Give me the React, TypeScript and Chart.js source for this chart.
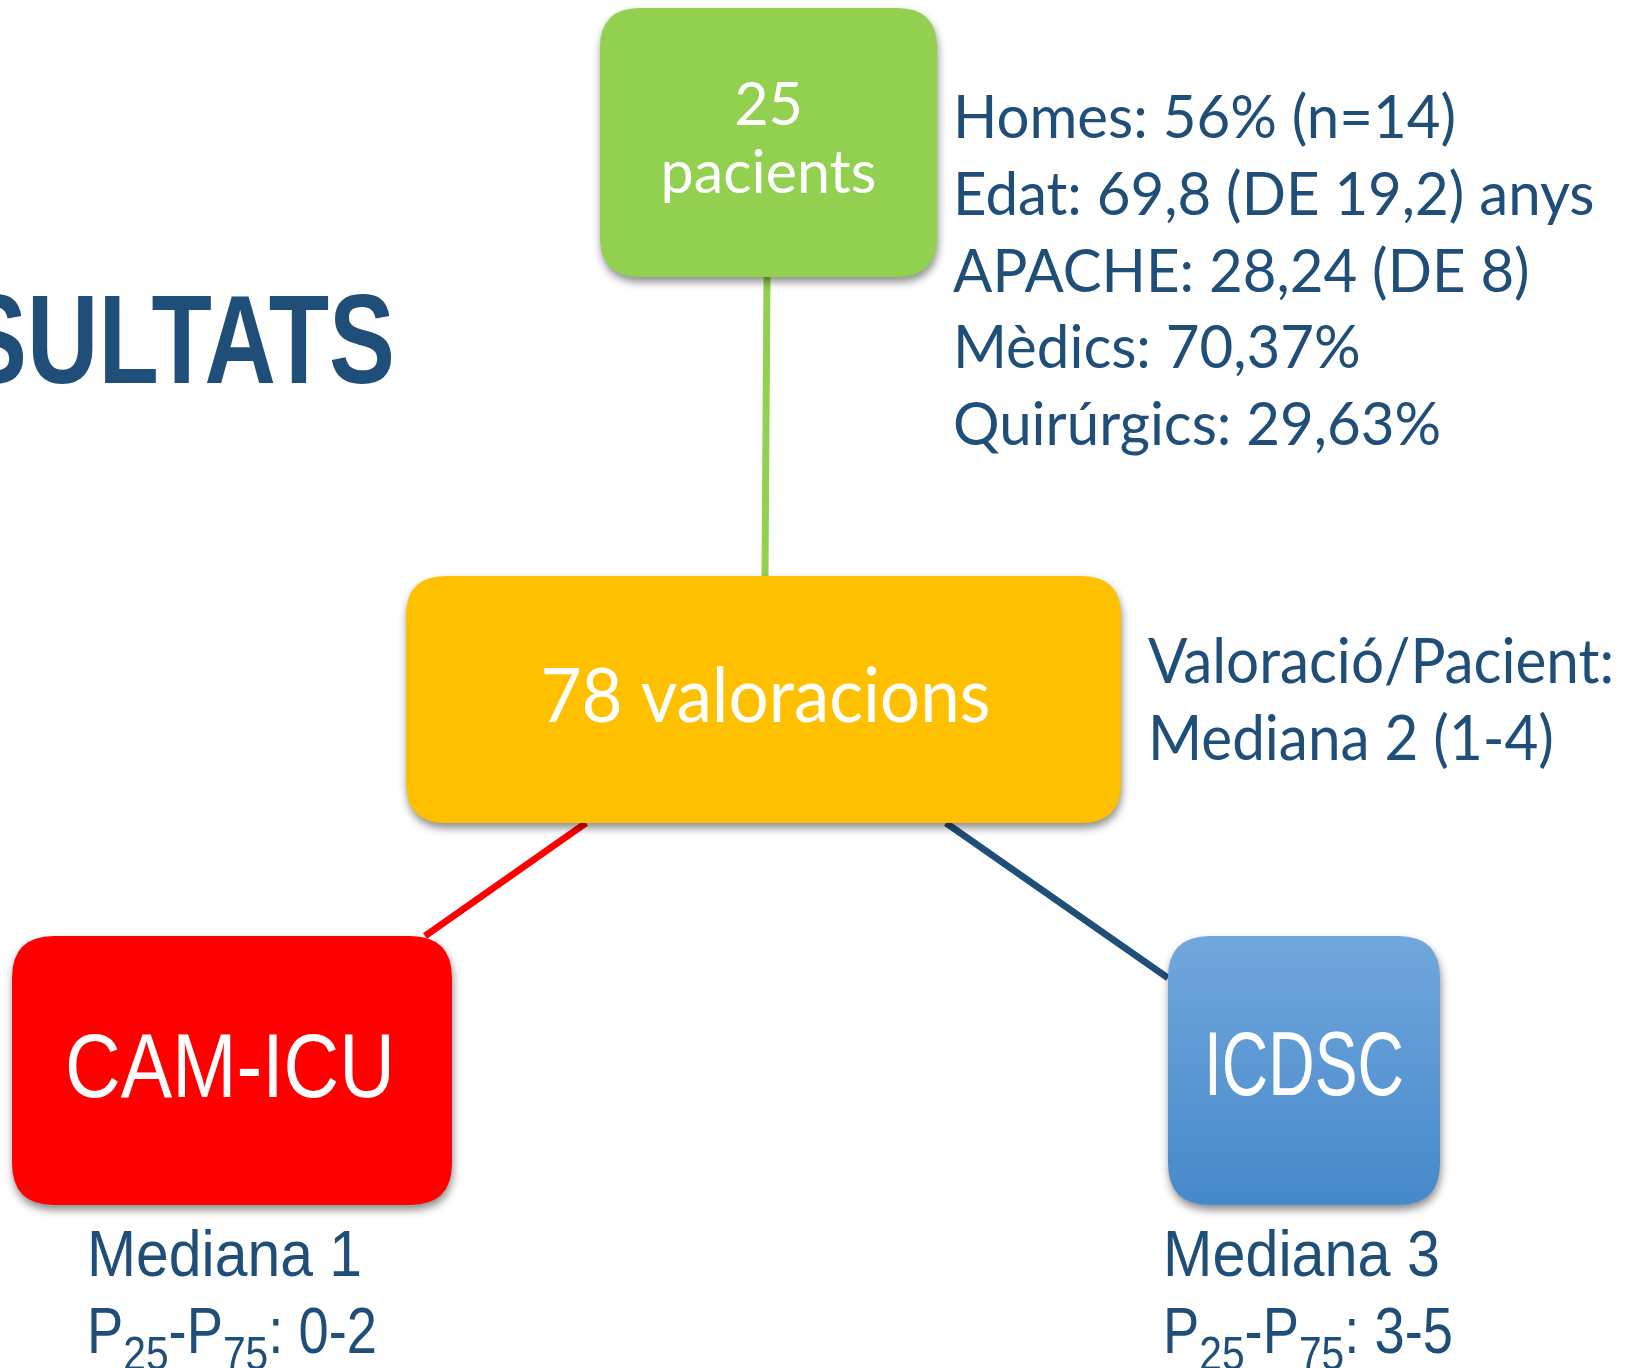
import React, { useEffect, useRef } from 'react';
import { Chart, registerables } from 'chart.js';
Chart.register(...registerables);

const W = 1627;
const H = 1368;

// ---- diagram data ----
const nodeLabels: string[][] = [['25', 'pacients'], ['78 valoracions'], ['CAM-ICU'], ['ICDSC']];
const nodeColorsTop = ['#92d050', '#ffc000', '#ff0000', '#72a7dd'];
const nodeColorsBottom = ['#92d050', '#ffc000', '#ff0000', '#4589ca'];

const infoLines = ['Homes: 56% (n=14)', 'Edat: 69,8 (DE 19,2) anys', 'APACHE: 28,24 (DE 8)', 'Mèdics: 70,37%', 'Quirúrgics: 29,63%'];
const valLines = ['Valoració/Pacient:', 'Mediana 2 (1-4)'];
const camStats = ['Mediana 1', '0-2'];
const icdscStats = ['Mediana 3', '3-5'];
const titleText = 'RESULTATS';

// ---- layout (positions / sizes) ----
const nodeLeft = [600, 406, 12, 1168];
const nodeTop = [8, 576, 936, 936];
const nodeRight = [937, 1121, 452, 1440];
const nodeBottom = [277, 823, 1205, 1205];
const nodeRadius = [40, 40, 42, 42];

const edgeFromX = [767, 586, 946];
const edgeFromY = [277, 823, 823];
const edgeToX = [765, 425, 1168];
const edgeToY = [576, 936, 978];
const edgeColors = ['#92d050', '#ff0000', '#1f4e79'];

const NAVY = '#1f4e79';

function drawText(ctx: CanvasRenderingContext2D, s: string, x: number, y: number, font: string, color: string, align: string, sx: number) {
  ctx.save();
  ctx.font = font;
  ctx.fillStyle = color;
  ctx.textBaseline = 'alphabetic';
  ctx.textAlign = 'left';
  const w = ctx.measureText(s).width * sx;
  const x0 = align === 'center' ? x - w / 2 : align === 'right' ? x - w : x;
  ctx.translate(x0, y);
  ctx.scale(sx, 1);
  ctx.fillText(s, 0, 0);
  ctx.restore();
  return w;
}

function measure(ctx: CanvasRenderingContext2D, s: string, font: string) {
  ctx.save();
  ctx.font = font;
  const w = ctx.measureText(s).width;
  ctx.restore();
  return w;
}

function fitScale(ctx: CanvasRenderingContext2D, s: string, font: string, target: number) {
  return target / measure(ctx, s, font);
}

function roundRect(ctx: CanvasRenderingContext2D, x: number, y: number, w: number, h: number, r: number) {
  ctx.beginPath();
  ctx.moveTo(x + r, y);
  ctx.lineTo(x + w - r, y);
  ctx.quadraticCurveTo(x + w, y, x + w, y + r);
  ctx.lineTo(x + w, y + h - r);
  ctx.quadraticCurveTo(x + w, y + h, x + w - r, y + h);
  ctx.lineTo(x + r, y + h);
  ctx.quadraticCurveTo(x, y + h, x, y + h - r);
  ctx.lineTo(x, y + r);
  ctx.quadraticCurveTo(x, y, x + r, y);
  ctx.closePath();
}

const diagramPlugin = {
  id: 'diagram',
  afterDatasetsDraw(chart: any) {
    const ctx: CanvasRenderingContext2D = chart.ctx;
    const sx = chart.scales.x;
    const sy = chart.scales.y;
    const X = (v: number) => sx.getPixelForValue(v);
    const Y = (v: number) => sy.getPixelForValue(v);

    // boxes
    for (let i = 0; i < nodeLabels.length; i++) {
      const l = X(nodeLeft[i]);
      const r = X(nodeRight[i]);
      const t = Y(nodeTop[i]);
      const b = Y(nodeBottom[i]);
      ctx.save();
      const g = ctx.createLinearGradient(0, t, 0, b);
      g.addColorStop(0, nodeColorsTop[i]);
      g.addColorStop(1, nodeColorsBottom[i]);
      ctx.fillStyle = g;
      ctx.shadowColor = 'rgba(0,0,0,0.45)';
      ctx.shadowBlur = 9;
      ctx.shadowOffsetX = 1;
      ctx.shadowOffsetY = 5;
      roundRect(ctx, l, t, r - l, b - t, nodeRadius[i]);
      ctx.fill();
      ctx.restore();
    }

    // box labels
    const boxFont = (px: number) => `${px}px Lato, "Liberation Sans", sans-serif`;
    const sansFont = (px: number) => `${px}px "Liberation Sans", Arial, sans-serif`;
    // green node
    {
      const cx = (X(nodeLeft[0]) + X(nodeRight[0])) / 2;
      const f = boxFont(60);
      const k = fitScale(ctx, nodeLabels[0][1], f, 216);
      drawText(ctx, nodeLabels[0][0], cx, Y(125), f, '#ffffff', 'center', k);
      drawText(ctx, nodeLabels[0][1], cx, Y(193), f, '#ffffff', 'center', k);
    }
    // yellow node
    {
      const cx = (X(nodeLeft[1]) + X(nodeRight[1])) / 2 + 2;
      const f = boxFont(76);
      const k = fitScale(ctx, nodeLabels[1][0], f, 450);
      drawText(ctx, nodeLabels[1][0], cx, Y(722), f, '#ffffff', 'center', k);
    }
    // red node
    {
      const f = sansFont(91);
      const k = fitScale(ctx, nodeLabels[2][0], f, 330);
      drawText(ctx, nodeLabels[2][0], X(230), Y(1097), f, '#ffffff', 'center', k);
    }
    // blue node
    {
      const f = sansFont(91);
      const k = fitScale(ctx, nodeLabels[3][0], f, 200);
      drawText(ctx, nodeLabels[3][0], X(1304), Y(1095), f, '#ffffff', 'center', k);
    }

    // info text (top right)
    {
      const f = `${60}px Lato, "Liberation Sans", sans-serif`;
      const k = fitScale(ctx, infoLines[0], f, 503);
      const base = [138, 215, 292, 368, 445];
      infoLines.forEach((s, i) => drawText(ctx, s, X(953), Y(base[i]), f, NAVY, 'left', k));
    }
    // valoracio text
    {
      const f = `${62}px Lato, "Liberation Sans", sans-serif`;
      const k = fitScale(ctx, valLines[0], f, 466);
      drawText(ctx, valLines[0], X(1148), Y(683), f, NAVY, 'left', k);
      drawText(ctx, valLines[1], X(1148), Y(760), f, NAVY, 'left', k);
    }

    // stats below CAM-ICU and ICDSC
    const stat = (lines: string[], left: number, targetW: number, targetP: number) => {
      const f = sansFont(64);
      const fs = sansFont(48);
      const k = fitScale(ctx, lines[0], f, targetW);
      drawText(ctx, lines[0], X(left), Y(1276), f, NAVY, 'left', k);
      const tail = ': ' + lines[1];
      const natural = measure(ctx, 'P', f) * 2 + measure(ctx, '-', f) + measure(ctx, '25', fs) + measure(ctx, '75', fs) + measure(ctx, tail, f);
      const kp = targetP / natural;
      let x = X(left);
      const y = Y(1353);
      x += drawText(ctx, 'P', x, y, f, NAVY, 'left', kp);
      x += drawText(ctx, '25', x, y + 17, fs, NAVY, 'left', kp);
      x += drawText(ctx, '-P', x, y, f, NAVY, 'left', kp);
      x += drawText(ctx, '75', x, y + 17, fs, NAVY, 'left', kp);
      drawText(ctx, tail, x, y, f, NAVY, 'left', kp);
    };
    stat(camStats, 87, 275, 290);
    stat(icdscStats, 1163, 277, 290);

    // title (cropped on the left)
    {
      const f = `bold 127px "Liberation Sans", Arial, sans-serif`;
      const k = fitScale(ctx, 'ULTATS', f, 368);
      drawText(ctx, titleText, X(395), Y(383), f, NAVY, 'right', k);
    }
  },
};

export default function App() {
  const ref = useRef<HTMLCanvasElement | null>(null);
  useEffect(() => {
    document.body.style.margin = '0';
    const canvas = ref.current!;
    const datasets = edgeFromX.map((_, i) => ({
      type: 'scatter' as const,
      data: [
        { x: edgeFromX[i], y: edgeFromY[i] },
        { x: edgeToX[i], y: edgeToY[i] },
      ],
      showLine: true,
      borderColor: edgeColors[i],
      backgroundColor: edgeColors[i],
      borderWidth: 7,
      pointRadius: 0,
      borderCapStyle: 'butt' as const,
    }));
    const chart = new Chart(canvas, {
      type: 'scatter',
      data: { datasets },
      options: {
        responsive: false,
        animation: false,
        devicePixelRatio: 1,
        layout: { padding: 0 },
        scales: {
          x: { type: 'linear', min: 0, max: W, display: false },
          y: { type: 'linear', min: 0, max: H, reverse: true, display: false },
        },
        plugins: { legend: { display: false }, tooltip: { enabled: false } },
      },
      plugins: [diagramPlugin],
    });
    return () => chart.destroy();
  }, []);
  return (
    <div style={{ position: 'fixed', left: 0, top: 0, width: W, height: H, background: '#ffffff' }}>
      <canvas ref={ref} width={W} height={H} style={{ width: W, height: H, display: 'block' }} />
    </div>
  );
}
